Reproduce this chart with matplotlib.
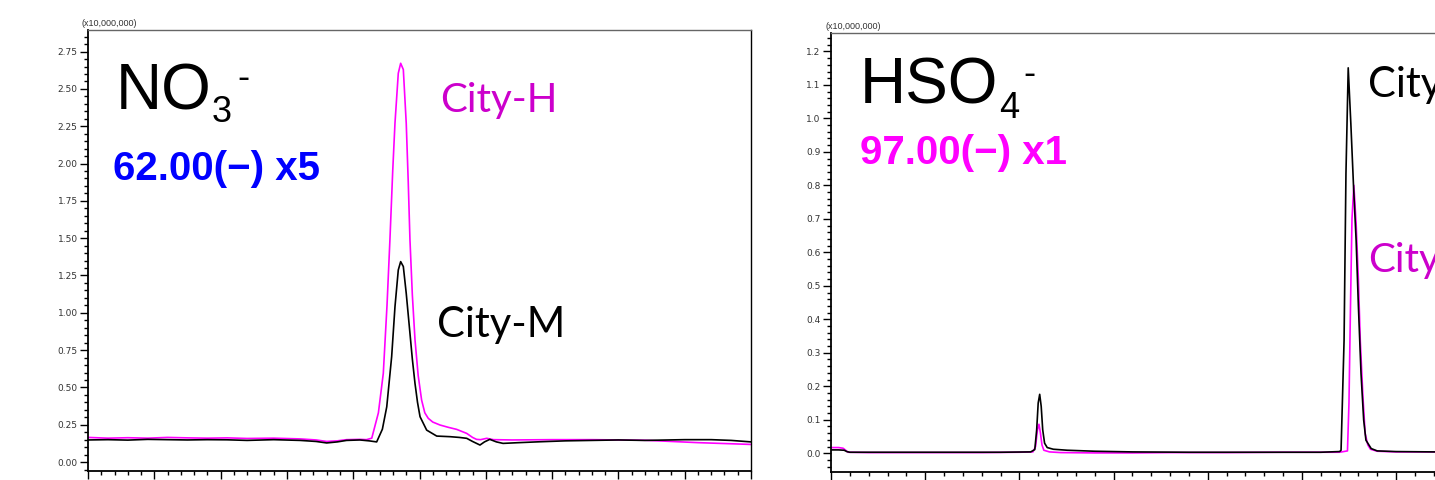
import matplotlib
matplotlib.use("Agg")
import matplotlib.pyplot as plt
from matplotlib.ticker import MultipleLocator, FormatStrFormatter

# NO3- trace, m/z 62.00(-), time in min, intensity in x10,000,000
no3_h_t = [5.00, 5.15, 5.30, 5.45, 5.60, 5.75, 5.90, 6.05, 6.20, 6.40, 6.60, 6.72, 6.80, 6.88,
           6.95, 7.05, 7.10, 7.14, 7.19, 7.227, 7.255, 7.277, 7.298, 7.315, 7.34, 7.358, 7.378,
           7.40, 7.415, 7.428, 7.446, 7.466, 7.49, 7.516, 7.54, 7.566, 7.60, 7.655, 7.72, 7.78,
           7.856, 7.90, 7.93, 7.96, 8.007, 8.057, 8.20, 8.50, 8.80, 9.00, 9.20, 9.40, 9.60, 9.80, 10.0]
no3_h_v = [0.165, 0.160, 0.163, 0.160, 0.165, 0.162, 0.160, 0.162, 0.158, 0.160, 0.155, 0.148, 0.138, 0.142,
           0.150, 0.152, 0.150, 0.160, 0.33, 0.594, 1.05, 1.49, 1.95, 2.27, 2.605, 2.672, 2.63,
           2.27, 1.88, 1.49, 1.12, 0.82, 0.58, 0.415, 0.33, 0.293, 0.268, 0.248, 0.232, 0.219,
           0.192, 0.165, 0.152, 0.150, 0.159, 0.150, 0.148, 0.150, 0.150, 0.148, 0.146, 0.138, 0.130, 0.124, 0.118]

no3_m_t = [5.00, 5.15, 5.30, 5.45, 5.60, 5.75, 5.90, 6.05, 6.20, 6.40, 6.60, 6.72, 6.80, 6.88,
           6.95, 7.05, 7.12, 7.177, 7.22, 7.253, 7.29, 7.315, 7.34, 7.358, 7.378, 7.40, 7.428,
           7.446, 7.466, 7.485, 7.504, 7.554, 7.63, 7.73, 7.80, 7.856, 7.90, 7.956, 7.99, 8.03,
           8.08, 8.13, 8.25, 8.41, 8.60, 8.80, 9.00, 9.20, 9.50, 9.70, 9.85, 10.0]
no3_m_v = [0.148, 0.150, 0.147, 0.152, 0.150, 0.148, 0.150, 0.149, 0.145, 0.150, 0.145, 0.138, 0.128, 0.135,
           0.145, 0.148, 0.142, 0.135, 0.22, 0.37, 0.706, 1.04, 1.287, 1.343, 1.31, 1.13, 0.863,
           0.69, 0.527, 0.40, 0.304, 0.214, 0.174, 0.170, 0.165, 0.159, 0.138, 0.114, 0.135, 0.152,
           0.135, 0.125, 0.130, 0.136, 0.142, 0.145, 0.148, 0.145, 0.150, 0.150, 0.145, 0.135]

# HSO4- trace, m/z 97.00(-)
hso4_m_t = [2.50, 2.70, 2.85, 2.92, 3.00, 4.00, 5.00, 6.00, 7.00, 7.80, 7.91, 7.96, 8.00, 8.04,
            8.08, 8.12, 8.17, 8.24, 8.40, 8.77, 9.50, 10.5, 12.0, 14.0, 15.5, 16.00, 16.04, 16.12,
            16.17, 16.23, 16.30, 16.37, 16.44, 16.50, 16.57, 16.64, 16.70, 16.84, 17.0, 17.5, 18.5, 20.0]
hso4_m_v = [0.010, 0.010, 0.009, 0.005, 0.003, 0.003, 0.003, 0.003, 0.003, 0.004, 0.011, 0.07, 0.150, 0.176,
            0.140, 0.07, 0.030, 0.017, 0.012, 0.009, 0.006, 0.004, 0.003, 0.003, 0.003, 0.005, 0.009, 0.337,
            0.835, 1.151, 0.984, 0.80, 0.636, 0.44, 0.238, 0.10, 0.039, 0.014, 0.007, 0.005, 0.004, 0.004]

hso4_h_t = [2.50, 2.70, 2.82, 2.90, 2.95, 3.5, 4.5, 5.5, 6.5, 7.5, 7.86, 7.93, 7.98, 8.02,
            8.06, 8.10, 8.15, 8.30, 8.60, 9.5, 10.5, 11.5, 13.0, 14.5, 16.0, 16.21, 16.25, 16.29,
            16.33, 16.38, 16.44, 16.50, 16.55, 16.62, 16.68, 16.75, 16.82, 17.0, 17.5, 18.5, 20.0]
hso4_h_v = [0.017, 0.017, 0.015, 0.008, 0.003, 0.002, 0.002, 0.002, 0.002, 0.003, 0.004, 0.02, 0.07, 0.0866,
            0.06, 0.025, 0.009, 0.004, 0.002, 0.001, 0.001, 0.002, 0.002, 0.003, 0.003, 0.007, 0.15, 0.437,
            0.70, 0.80, 0.686, 0.52, 0.337, 0.17, 0.059, 0.025, 0.012, 0.006, 0.004, 0.004, 0.004]

W, H = 1435, 480
fig = plt.figure(figsize=(W / 100, H / 100), dpi=100)

PINK = "#ff00ff"
LABEL_PINK = "#cc00cc"
TICK_COL = "#333333"


def px_axes(x0, y0, x1, y1):
    return fig.add_axes([x0 / W, 1 - y1 / H, (x1 - x0) / W, (y1 - y0) / H])


def style(ax, xlim, ylim, xmaj, xmin, ymaj, ymin, xfmt, yfmt):
    ax.set_xlim(*xlim)
    ax.set_ylim(*ylim)
    ax.xaxis.set_major_locator(MultipleLocator(xmaj))
    ax.xaxis.set_minor_locator(MultipleLocator(xmin))
    ax.yaxis.set_major_locator(MultipleLocator(ymaj))
    ax.yaxis.set_minor_locator(MultipleLocator(ymin))
    ax.xaxis.set_major_formatter(FormatStrFormatter(xfmt))
    ax.yaxis.set_major_formatter(FormatStrFormatter(yfmt))
    ax.tick_params(which="major", direction="out", length=6, width=1, labelsize=6.5,
                   labelcolor=TICK_COL, pad=1.5)
    ax.tick_params(which="minor", direction="out", length=3, width=1)
    for s in ("left", "bottom"):
        ax.spines[s].set_linewidth(1.3)
    for s in ("top", "right"):
        ax.spines[s].set_linewidth(1.0)
    ax.spines["top"].set_color("#666666")


def ftext(x, y, s, **kw):
    fig.text(x / W, 1 - y / H, s, va="baseline", ha="left", **kw)


SANS = ["Liberation Sans", "DejaVu Sans"]
CITY = ["Lato", "DejaVu Sans"]

# left panel
ax1 = px_axes(88, 30, 751, 471)
ax1.plot(no3_h_t, no3_h_v, color=PINK, lw=1.2)
ax1.plot(no3_m_t, no3_m_v, color="black", lw=1.2)
style(ax1, (5.0, 10.0), (-0.06, 2.895), 0.5, 0.1, 0.25, 0.05, "%.1f", "%.2f")
ftext(82, 26, "(x10,000,000)", fontsize=6.5, color=TICK_COL, family=SANS)
ftext(116, 109, "NO", fontsize=46, family=SANS)
ftext(212, 122, "3", fontsize=26, family=SANS)
ftext(237, 88, "-", fontsize=26, family=SANS)
ftext(113, 180, "62.00(\u2212) x5", fontsize=29, fontweight="bold", color="#0000ff", family=SANS)
ftext(440, 112, "City-H", fontsize=29, color=LABEL_PINK, family=CITY)
ftext(437, 337, "City-M", fontsize=30, color="black", family=CITY)

# right panel (runs past the right edge of the figure)
ax2 = px_axes(831, 33, 1494, 472)
ax2.plot(hso4_h_t, hso4_h_v, color=PINK, lw=1.2)
ax2.plot(hso4_m_t, hso4_m_v, color="black", lw=1.2)
style(ax2, (2.5, 20.1), (-0.056, 1.255), 2.5, 0.5, 0.1, 0.02, "%.1f", "%.1f")
ftext(825, 29, "(x10,000,000)", fontsize=6.5, color=TICK_COL, family=SANS)
ftext(860, 104, "HSO", fontsize=46, family=SANS)
ftext(999, 118, "4", fontsize=26, family=SANS)
ftext(1023, 84, "-", fontsize=26, family=SANS)
ftext(860, 164, "97.00(\u2212) x1", fontsize=29, fontweight="bold", color=PINK, family=SANS)
ftext(1368, 97, "City-M", fontsize=30, color="black", family=CITY)
ftext(1368, 272, "City-H", fontsize=29, color=LABEL_PINK, family=CITY)

fig.savefig("out.png", dpi=100)
